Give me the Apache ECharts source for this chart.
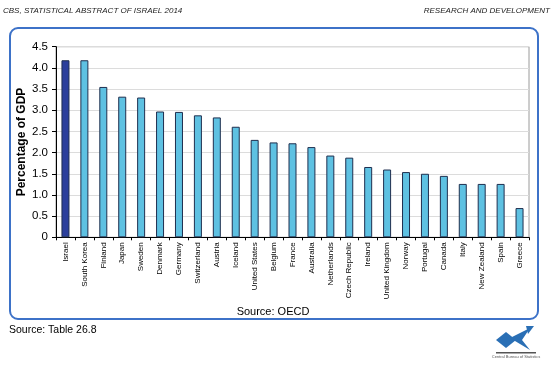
<!DOCTYPE html>
<html>
<head>
<meta charset="utf-8">
<script src="https://cdn.jsdelivr.net/npm/echarts@6/dist/echarts.min.js"></script>
<style>
  html, body { margin: 0; padding: 0; background: #fff; }
  #chart { width: 553px; height: 365px; }
</style>
</head>
<body>
<div id="chart"></div>
<script>
const countries = [
  "Israel", "South Korea", "Finland", "Japan", "Sweden", "Denmark", "Germany",
  "Switzerland", "Austria", "Iceland", "United States", "Belgium", "France",
  "Australia", "Netherlands", "Czech Republic", "Ireland", "United Kingdom",
  "Norway", "Portugal", "Canada", "Italy", "New Zealand", "Spain", "Greece"
];
const gdpShare = [
  4.18, 4.18, 3.55, 3.32, 3.30, 2.97, 2.96, 2.88, 2.83, 2.61, 2.30, 2.24, 2.22,
  2.13, 1.93, 1.88, 1.66, 1.60, 1.54, 1.50, 1.45, 1.26, 1.26, 1.26, 0.69
];

const chart = echarts.init(document.getElementById("chart"));

const barData = gdpShare.map((v, i) => ({
  value: v,
  itemStyle: { color: i === 0 ? "#2b3f9c" : "#5ec1e2" }
}));

const option = {
  animation: false,
  textStyle: { fontFamily: "Liberation Sans, Arial, sans-serif" },
  grid: {
    left: 56, right: 24, top: 46.7, bottom: 127.7,
    show: true, borderColor: "#9a9a9a", borderWidth: 1
  },
  xAxis: {
    type: "category",
    data: countries,
    axisLine: { lineStyle: { color: "#000", width: 1 } },
    axisTick: { show: true, length: 3, lineStyle: { color: "#000" } },
    axisLabel: { rotate: 90, fontSize: 8, color: "#000", margin: 5 }
  },
  yAxis: {
    type: "value",
    min: 0, max: 4.5, interval: 0.5,
    name: "Percentage of GDP",
    nameLocation: "middle",
    nameGap: 28,
    nameMoveOverlap: false,
    nameTextStyle: { fontSize: 12, fontWeight: "bold", color: "#000" },
    axisLine: { show: true, lineStyle: { color: "#000" } },
    axisTick: { show: true, length: 4, lineStyle: { color: "#000" } },
    axisLabel: {
      fontSize: 11.5, color: "#000", margin: 8,
      formatter: v => (v === 0 ? "0" : v.toFixed(1))
    },
    splitLine: { show: true, lineStyle: { color: "#dcdcdc" } }
  },
  series: [{
    type: "bar",
    data: barData,
    barWidth: 8,
    itemStyle: { borderColor: "#1f2f4f", borderWidth: 1 }
  }],
  graphic: [
    {
      type: "rect", silent: true,
      shape: { x: 10, y: 28, width: 528, height: 291, r: 8 },
      style: { fill: null, stroke: "#3d72c8", lineWidth: 2 }
    },
    {
      type: "text", left: 3, top: 7,
      style: {
        text: "CBS, STATISTICAL ABSTRACT OF ISRAEL 2014",
        fontSize: 8, fontStyle: "italic", fill: "#222",
        fontFamily: "Liberation Sans, Arial, sans-serif"
      }
    },
    {
      type: "text", right: 3, top: 7,
      style: {
        text: "RESEARCH AND DEVELOPMENT",
        fontSize: 8, fontStyle: "italic", fill: "#222",
        fontFamily: "Liberation Sans, Arial, sans-serif"
      }
    },
    {
      type: "text", x: 273, y: 306,
      style: {
        text: "Source: OECD", fontSize: 11, fill: "#000",
        align: "center", fontFamily: "Liberation Sans, Arial, sans-serif"
      }
    },
    {
      type: "text", x: 9, y: 325,
      style: {
        text: "Source: Table 26.8", fontSize: 10.5, fill: "#000",
        fontFamily: "Liberation Sans, Arial, sans-serif"
      }
    },
    // rough CBS logo
    {
      type: "group", x: 496, y: 326, silent: true,
      children: [
        { type: "polygon", shape: { points: [[0, 14], [10, 6], [20, 14], [10, 22]] }, style: { fill: "#2a6fb5" } },
        { type: "polygon", shape: { points: [[14, 12], [34, 2], [26, 14], [34, 24]] }, style: { fill: "#2a6fb5" } },
        { type: "polygon", shape: { points: [[30, 0], [38, 0], [32, 8]] }, style: { fill: "#2a6fb5" } },
        { type: "rect", shape: { x: 0, y: 26, width: 40, height: 1.5 }, style: { fill: "#555" } },
        {
          type: "text", x: 20, y: 29,
          style: { text: "Central Bureau of Statistics", fontSize: 4, fill: "#555", align: "center" }
        }
      ]
    }
  ]
};

chart.setOption(option);
</script>
</body>
</html>
